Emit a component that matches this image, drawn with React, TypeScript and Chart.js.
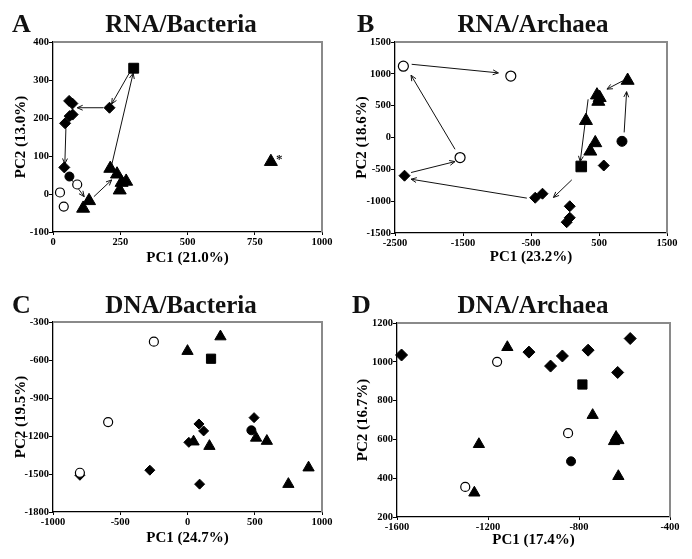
import React, { useEffect, useRef } from "react";
import { Chart, registerables } from "chart.js";

Chart.register(...registerables);

type Pt = [number, number];
type Arrow = [number, number, number, number];

// ---------- Panel A: RNA/Bacteria ----------
const A_xTicks = [0, 250, 500, 750, 1000];
const A_yTicks = [-100, 0, 100, 200, 300, 400];
const A_diamonds: Pt[] = [[60, 245], [72, 238], [62, 205], [73, 209], [45, 186], [210, 227], [42, 70]];
const A_triangles: Pt[] = [[112, -38], [134, -18], [213, 67], [238, 52], [255, 30], [272, 33], [248, 10], [810, 85]];
const A_squares: Pt[] = [[300, 331]];
const A_filled: Pt[] = [[61, 46]];
const A_open: Pt[] = [[90, 25], [26, 4], [40, -33]];
const A_arrows: Arrow[] = [
  [289, 325, 218, 237],
  [187, 227, 90, 227],
  [48, 173, 44, 79],
  [70, 37, 116, -7],
  [152, -7, 218, 37],
  [218, 76, 298, 318],
];
const A_asterisk: Pt = [810, 85];

// ---------- Panel B: RNA/Archaea ----------
const B_xTicks = [-2500, -1500, -500, 500, 1500];
const B_yTicks = [-1500, -1000, -500, 0, 500, 1000, 1500];
const B_diamonds: Pt[] = [[-2360, -600], [-438, -946], [-331, -883], [70, -1080], [70, -1260], [25, -1330], [570, -440]];
const B_triangles: Pt[] = [[921, 895], [470, 665], [510, 625], [490, 565], [308, 264], [445, -85], [372, -217]];
const B_squares: Pt[] = [[239, -455]];
const B_filled: Pt[] = [[838, -60]];
const B_open: Pt[] = [[-2377, 1120], [-797, 965], [-1543, -315]];
const B_arrows: Arrow[] = [
  [-2255, 1150, -980, 1015],
  [-1617, -185, -2264, 978],
  [-2264, -550, -1617, -378],
  [-561, -952, -2264, -655],
  [100, -665, -170, -942],
  [340, 600, 224, -378],
  [870, 80, 906, 720],
  [850, 890, 617, 760],
];

// ---------- Panel C: DNA/Bacteria ----------
const C_xTicks = [-1000, -500, 0, 500, 1000];
const C_yTicks = [-1800, -1500, -1200, -900, -600, -300];
const C_diamonds: Pt[] = [[-800, -1510], [85, -1105], [120, -1160], [10, -1250], [495, -1055], [-280, -1470], [90, -1580]];
const C_triangles: Pt[] = [[245, -415], [0, -530], [45, -1245], [163, -1280], [510, -1215], [590, -1240], [900, -1450], [750, -1580]];
const C_squares: Pt[] = [[175, -590]];
const C_filled: Pt[] = [[475, -1155]];
const C_open: Pt[] = [[-250, -455], [-590, -1090], [-800, -1490]];
const C_arrows: Arrow[] = [];

// ---------- Panel D: DNA/Archaea ----------
const D_xTicks = [-1600, -1200, -800, -400];
const D_yTicks = [200, 400, 600, 800, 1000, 1200];
const D_diamonds: Pt[] = [[-1580, 1035], [-1020, 1050], [-925, 978], [-873, 1030], [-760, 1060], [-575, 1120], [-630, 945]];
const D_triangles: Pt[] = [[-1115, 1075], [-1240, 575], [-1260, 325], [-740, 725], [-637, 612], [-627, 595], [-646, 590], [-627, 410]];
const D_squares: Pt[] = [[-785, 883]];
const D_filled: Pt[] = [[-835, 487]];
const D_open: Pt[] = [[-1160, 1000], [-848, 632], [-1300, 355]];
const D_arrows: Arrow[] = [];

const SERIF = "'Liberation Serif', 'Times New Roman', Times, serif";

type Panel = {
  letter: string;
  title: string;
  xTitle: string;
  yTitle: string;
  xTicks: number[];
  yTicks: number[];
  diamonds: Pt[];
  triangles: Pt[];
  squares: Pt[];
  filled: Pt[];
  open: Pt[];
  arrows: Arrow[];
  asterisk?: Pt;
  left: number;
  top: number;
  width: number;
  height: number;
  plot: { l: number; r: number; t: number; b: number };
  yTitleX: number;
  xTitleY: number;
  letterX: number;
  titleX: number;
  titleBase: number;
  size: { tri: number; dia: number; sq: number; circ: number };
};

const panels: Panel[] = [
  {
    letter: "A", title: "RNA/Bacteria", xTitle: "PC1 (21.0%)", yTitle: "PC2 (13.0%)",
    xTicks: A_xTicks, yTicks: A_yTicks,
    diamonds: A_diamonds, triangles: A_triangles, squares: A_squares, filled: A_filled, open: A_open,
    arrows: A_arrows, asterisk: A_asterisk,
    left: 0, top: 0, width: 346, height: 280,
    plot: { l: 53, r: 322, t: 42, b: 232 },
    yTitleX: 21, xTitleY: 258, letterX: 12, titleX: 181, titleBase: 32,
    size: { tri: 7.5, dia: 5.5, sq: 7, circ: 4.5 },
  },
  {
    letter: "B", title: "RNA/Archaea", xTitle: "PC1 (23.2%)", yTitle: "PC2 (18.6%)",
    xTicks: B_xTicks, yTicks: B_yTicks,
    diamonds: B_diamonds, triangles: B_triangles, squares: B_squares, filled: B_filled, open: B_open,
    arrows: B_arrows,
    left: 346, top: 0, width: 346, height: 280,
    plot: { l: 49, r: 321, t: 42, b: 233 },
    yTitleX: 16, xTitleY: 257, letterX: 11, titleX: 187, titleBase: 32,
    size: { tri: 7.5, dia: 5.5, sq: 7.5, circ: 5 },
  },
  {
    letter: "C", title: "DNA/Bacteria", xTitle: "PC1 (24.7%)", yTitle: "PC2 (19.5%)",
    xTicks: C_xTicks, yTicks: C_yTicks,
    diamonds: C_diamonds, triangles: C_triangles, squares: C_squares, filled: C_filled, open: C_open,
    arrows: C_arrows,
    left: 0, top: 280, width: 346, height: 279,
    plot: { l: 53, r: 322, t: 42, b: 232 },
    yTitleX: 21, xTitleY: 258, letterX: 12, titleX: 181, titleBase: 33,
    size: { tri: 6.5, dia: 5, sq: 6.5, circ: 4.5 },
  },
  {
    letter: "D", title: "DNA/Archaea", xTitle: "PC1 (17.4%)", yTitle: "PC2 (16.7%)",
    xTicks: D_xTicks, yTicks: D_yTicks,
    diamonds: D_diamonds, triangles: D_triangles, squares: D_squares, filled: D_filled, open: D_open,
    arrows: D_arrows,
    left: 346, top: 280, width: 346, height: 279,
    plot: { l: 51, r: 324, t: 43, b: 237 },
    yTitleX: 17, xTitleY: 260, letterX: 6, titleX: 187, titleBase: 33,
    size: { tri: 6.5, dia: 6, sq: 6.5, circ: 4.5 },
  },
];

function PanelChart({ p }: { p: Panel }) {
  const ref = useRef<HTMLCanvasElement>(null);

  useEffect(() => {
    if (!ref.current) return;
    const AX_FONT = 15;
    const lh = AX_FONT * 1.2;
    const toXY = (a: Pt[]) => a.map(([x, y]) => ({ x, y }));
    const mk = (label: string, data: Pt[], style: string, r: number, fill: string, bw: number) => ({
      label,
      data: toXY(data),
      pointStyle: style,
      pointRadius: r,
      pointHoverRadius: r,
      pointBackgroundColor: fill,
      pointBorderColor: "#000",
      pointBorderWidth: bw,
      backgroundColor: fill,
      borderColor: "#000",
      showLine: false,
      clip: false,
    });

    const overlay = {
      id: "overlay" + p.letter,
      beforeDatasetsDraw(chart: any) {
        const { ctx, chartArea: ca, scales } = chart;
        const xs = scales.x;
        const ys = scales.y;
        ctx.save();
        ctx.strokeStyle = "#8a8a8a";
        ctx.lineWidth = 2;
        ctx.beginPath();
        ctx.moveTo(ca.left, ca.top);
        ctx.lineTo(ca.right, ca.top);
        ctx.lineTo(ca.right, ca.bottom);
        ctx.stroke();

        ctx.strokeStyle = "#111";
        ctx.lineWidth = 1;
        for (const [x1, y1, x2, y2] of p.arrows) {
          const X1 = xs.getPixelForValue(x1);
          const Y1 = ys.getPixelForValue(y1);
          const X2 = xs.getPixelForValue(x2);
          const Y2 = ys.getPixelForValue(y2);
          const ang = Math.atan2(Y2 - Y1, X2 - X1);
          const hl = 6;
          const ha = 0.42;
          ctx.beginPath();
          ctx.moveTo(X1, Y1);
          ctx.lineTo(X2, Y2);
          ctx.moveTo(X2 - hl * Math.cos(ang - ha), Y2 - hl * Math.sin(ang - ha));
          ctx.lineTo(X2, Y2);
          ctx.lineTo(X2 - hl * Math.cos(ang + ha), Y2 - hl * Math.sin(ang + ha));
          ctx.stroke();
        }
        ctx.restore();
      },
      afterDraw(chart: any) {
        const { ctx, scales } = chart;
        ctx.save();
        ctx.fillStyle = "#111";
        ctx.textBaseline = "alphabetic";
        ctx.font = `bold 26px ${SERIF}`;
        ctx.textAlign = "left";
        ctx.fillText(p.letter, p.letterX, p.titleBase);
        ctx.font = `bold 25px ${SERIF}`;
        ctx.textAlign = "center";
        ctx.fillText(p.title, p.titleX, p.titleBase);
        if (p.asterisk) {
          const X = scales.x.getPixelForValue(p.asterisk[0]);
          const Y = scales.y.getPixelForValue(p.asterisk[1]);
          ctx.font = `bold 13px ${SERIF}`;
          ctx.textAlign = "left";
          ctx.fillText("*", X + 5, Y + 1);
        }
        ctx.restore();
      },
    };

    const { l, r, t, b } = p.plot;
    const W = p.width;
    const H = p.height;
    const plain = (v: any) => String(v);

    const chart = new Chart(ref.current, {
      type: "scatter",
      data: {
        datasets: [
          mk("open", p.open, "circle", p.size.circ, "#ffffff", 1.2),
          mk("filled", p.filled, "circle", p.size.circ, "#000000", 1),
          mk("square", p.squares, "rect", p.size.sq, "#000000", 1),
          mk("diamond", p.diamonds, "rectRot", p.size.dia, "#000000", 1),
          mk("triangle", p.triangles, "triangle", p.size.tri, "#000000", 1),
        ] as any,
      },
      options: {
        responsive: false,
        animation: false,
        events: [],
        layout: { padding: { left: 0, top: t, right: W - r, bottom: 0 } },
        plugins: {
          legend: { display: false },
          title: { display: false },
          tooltip: { enabled: false },
        },
        scales: {
          x: {
            type: "linear",
            min: p.xTicks[0],
            max: p.xTicks[p.xTicks.length - 1],
            afterBuildTicks: (s: any) => {
              s.ticks = p.xTicks.map((v) => ({ value: v }));
            },
            afterFit: (s: any) => {
              s.height = H - b;
            },
            grid: { display: true, drawOnChartArea: false, drawTicks: true, tickLength: 3, color: "#000", lineWidth: 1 },
            border: { display: true, color: "#000", width: 1.3 },
            ticks: {
              color: "#000",
              padding: 1,
              maxRotation: 0,
              autoSkip: false,
              callback: plain,
              font: { family: SERIF, size: 10.5, weight: "bold" },
            },
            title: {
              display: true,
              text: p.xTitle,
              color: "#000",
              font: { family: SERIF, size: AX_FONT, weight: "bold" },
              padding: { top: 0, bottom: H - p.xTitleY - lh / 2 },
            },
          },
          y: {
            type: "linear",
            min: p.yTicks[0],
            max: p.yTicks[p.yTicks.length - 1],
            afterBuildTicks: (s: any) => {
              s.ticks = p.yTicks.map((v) => ({ value: v }));
            },
            afterFit: (s: any) => {
              s.width = l;
            },
            grid: { display: true, drawOnChartArea: false, drawTicks: true, tickLength: 4, color: "#000", lineWidth: 1 },
            border: { display: true, color: "#000", width: 1.3 },
            ticks: {
              color: "#000",
              padding: 0,
              autoSkip: false,
              callback: plain,
              font: { family: SERIF, size: 10.5, weight: "bold" },
            },
            title: {
              display: true,
              text: p.yTitle,
              color: "#000",
              font: { family: SERIF, size: AX_FONT, weight: "bold" },
              padding: { top: p.yTitleX - lh / 2, bottom: 0 },
            },
          },
        },
      } as any,
      plugins: [overlay],
    });
    return () => chart.destroy();
  }, [p]);

  return (
    <canvas
      ref={ref}
      width={p.width}
      height={p.height}
      style={{ position: "absolute", left: p.left, top: p.top, width: p.width, height: p.height }}
    />
  );
}

export default function App() {
  return (
    <div
      style={{
        position: "absolute",
        left: 0,
        top: 0,
        width: 692,
        height: 559,
        overflow: "hidden",
        background: "#fff",
      }}
    >
      {panels.map((p) => (
        <PanelChart key={p.letter} p={p} />
      ))}
    </div>
  );
}
